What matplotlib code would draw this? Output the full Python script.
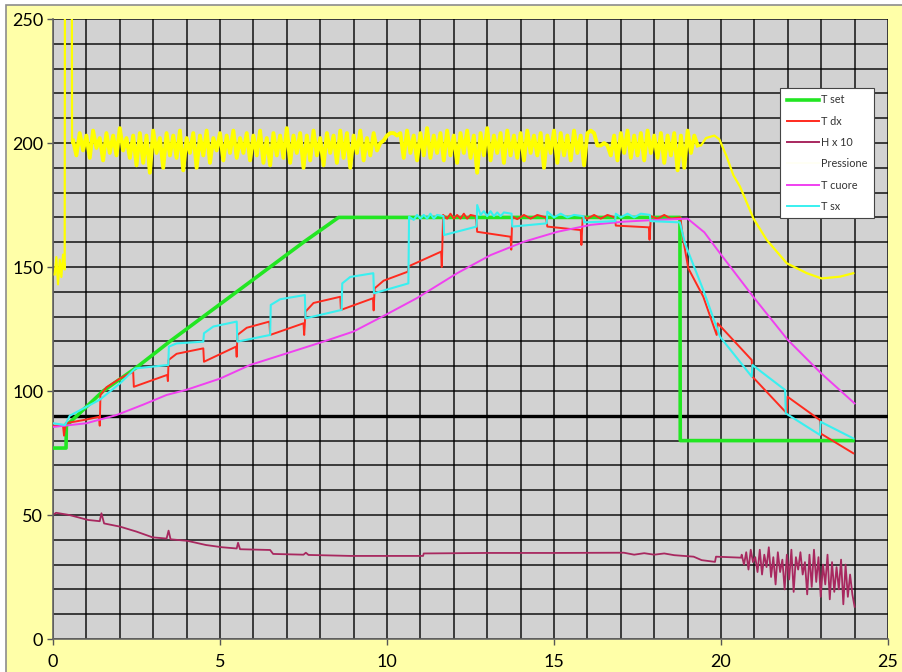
import matplotlib.pyplot as plt
import matplotlib.patches as patches
from matplotlib.ticker import MultipleLocator
import numpy as np

plt.rcParams['font.family'] = ['Lato', 'DejaVu Sans']

# T set (green)
tset_x = [0, 0.39, 0.40, 1.5, 2.5, 3.5, 4.5, 5.5, 6.5, 7.5, 8.55, 18.77, 18.78, 23.95]
tset_y = [77, 77, 86, 100, 109.5, 120, 130, 140, 150, 160, 170, 170, 80, 80]

# T dx (red)
tdx_x = [0, 0.3, 0.33, 0.38, 1.0, 1.38, 1.40, 1.42, 1.6, 2.0, 2.4, 2.42, 3.42, 3.44, 3.46,
         3.7, 4.5, 4.52, 5.48, 5.50, 5.52, 5.8, 6.48, 6.50, 7.50, 7.52, 7.56, 7.8, 8.60,
         8.62, 9.58, 9.60, 9.63, 9.9, 10.62, 10.65, 11.62, 11.64, 11.68, 11.8, 11.9, 12.0,
         12.1, 12.2, 12.3, 12.4, 12.5, 12.66, 12.70, 13.70, 13.72, 13.75, 13.9, 14.1, 14.3,
         14.5, 14.76, 14.80, 15.80, 15.82, 15.86, 16.0, 16.2, 16.4, 16.6, 16.82, 16.85, 17.84,
         17.86, 17.90, 18.1, 18.3, 18.5, 18.78, 18.87, 19.02, 19.47, 19.87, 19.90, 20.92,
         20.94, 21.97, 21.99, 22.96, 22.98, 23.96]
tdx_y = [86, 86, 82, 87, 88.5, 89.6, 86, 98.4, 101.5, 105, 107.8, 101.7, 106.5, 104, 112.5,
         115, 117.2, 111.8, 117.9, 113.8, 122.6, 125.5, 128, 122.6, 127.3, 122.6, 132, 135.5, 138,
         132.7, 137.4, 132.5, 141.4, 144.5, 148.1, 150.3, 156.2, 150, 171, 169.5, 171.5, 169.5,
         171, 169.5, 171.5, 169.5, 171, 170.5, 164.2, 162.2, 157, 170.3, 169.3, 171, 169.5,
         171, 170, 166.3, 164.9, 158.9, 170.5, 169.5, 171, 169.5, 171, 170, 166.7, 166,
         161, 170.5, 169.5, 171, 169.5, 170, 160.9, 149.5, 138, 122.6, 127.3, 112.5,
         105.8, 91, 97.7, 88.3, 82.9, 74.9]

# H x 10 (maroon)
hx10_x = [0.05, 0.09, 0.49, 1.05, 1.40, 1.45, 1.53, 2.01, 2.5, 2.98, 3.40, 3.46, 3.52, 4.02,
          4.58, 5.06, 5.50, 5.54, 5.60, 6.5, 6.59, 7.5, 7.57, 7.65, 8.91, 11.08, 11.10,
          13.0, 15.0, 17.09, 17.4, 17.7, 18.0, 18.3, 18.6, 19.18, 19.42, 19.82, 19.85, 20.6]
hx10_y = [50.5, 50.9, 50, 48, 47.5, 50.7, 46.6, 45.3, 43.3, 41, 40.5, 43.7, 40.2, 39.6,
          37.9, 37, 36.5, 38.8, 36.2, 35.9, 34.3, 34.0, 34.8, 33.9, 33.5, 33.5, 34.5,
          34.7, 34.7, 34.8, 34.0, 34.6, 34.0, 34.5, 33.8, 33.2, 31.8, 31.1, 33.2, 32.8]
hx10_tail = [34, 30, 35, 28, 36, 31, 33, 27, 36, 26, 34, 29, 37, 25, 33, 22, 35, 27, 32, 20,
             34, 24, 36, 19, 33, 28, 35, 26, 31, 18, 34, 21, 36, 23, 33, 17, 30, 22, 34, 16,
             31, 19, 29, 20, 32, 14, 30, 17, 26, 18, 13]

# Pressione (yellow)
press_start_x = [0.05, 0.1, 0.15, 0.2, 0.25, 0.3, 0.35, 0.36, 0.56, 0.57, 0.6]
press_start_y = [147, 154, 143, 153, 146, 155, 149, 300, 300, 200, 201]
press_noise = [
    201, 195, 204, 197, 203, 194, 205, 198, 202, 193,
    204, 196, 203, 195, 206, 197, 202, 194, 203, 191,
    204, 192, 203, 188, 205, 196, 202, 190, 204, 195,
    203, 194, 205, 189, 202, 196, 204, 190, 203, 195,
    205, 192, 202, 197, 204, 193, 203, 196, 205, 194,
    202, 196, 204, 193, 203, 195, 205, 192, 202, 191,
    204, 195, 203, 194, 206, 192, 203, 196, 204, 190,
    203, 193, 205, 195, 202, 191, 204, 196, 203, 192,
    205, 194, 204, 190, 203, 196, 205, 193, 202, 195,
    204, 197, 200, 201, 203, 204, 204, 203, 204, 194,
    205, 196, 203, 193, 204, 195, 206, 194, 203, 196,
    204, 193, 205, 195, 203, 192, 204, 196, 205, 194,
    203, 188, 204, 195, 206, 193, 203, 196, 204, 192,
    205, 195, 203, 194, 204, 193, 205, 196, 203, 195,
    204, 190, 203, 196, 205, 192, 204, 195, 203, 193,
    205, 196, 203, 191, 204, 205, 204, 199, 199, 200,
    199, 195, 203, 193, 204, 196, 205, 194, 203, 195,
    204, 193, 205, 196, 203, 194, 204, 192, 203, 195,
    204, 189, 203, 190, 205, 196, 203, 199]
press_end_x = [19.3, 19.4, 19.55, 19.8, 19.95, 20.17, 20.37, 20.57, 20.97, 21.37, 21.97,
               22.57, 23.01, 23.56, 23.96]
press_end_y = [199, 199, 202, 203, 201.5, 194.5, 187, 182.4, 169.6, 160.9, 151.5, 147.5,
               145.4, 146.1, 147.5]

# T cuore (magenta)
tcuore_x = [0, 1.0, 1.9, 2.7, 3.4, 4.0, 5.0, 5.9, 7.0, 8.0, 9.0, 10.0, 10.9, 11.5, 12.1,
            13.1, 14.1, 15.1, 16.1, 17.1, 18.1, 19.0, 19.5, 20.0, 21.0, 22.0, 23.0, 24.0]
tcuore_y = [85.5, 87, 90.3, 94.5, 98.4, 100.5, 105, 110.5, 115.2, 119.5, 124, 131, 137.5,
            142.5, 147.5, 154.8, 160.2, 164.2, 167, 168.3, 169, 169.5, 164, 155, 137.4,
            120.6, 107.1, 95]

# T sx (cyan)
tsx_x = [0, 0.36, 0.5, 1.4, 2.0, 2.46, 3.45, 3.47, 3.7, 4.5, 4.52, 4.8, 5.5, 5.52, 6.5,
         6.52, 6.8, 7.54, 7.56, 8.64, 8.66, 8.9, 9.59, 9.61, 10.64, 10.66, 10.8, 10.9, 11.0,
         11.1, 11.2, 11.3, 11.4, 11.5, 11.69, 11.71, 12.68, 12.70, 12.8, 12.9, 13.0, 13.1,
         13.2, 13.3, 13.4, 13.5, 13.73, 13.75, 14.78, 14.80, 15.0, 15.2, 15.4, 15.6, 15.88,
         15.90, 16.83, 16.85, 17.0, 17.2, 17.4, 17.6, 17.87, 17.89, 18.77, 18.92, 19.47,
         19.97, 20.92, 20.94, 21.92, 21.94, 22.96, 22.98, 23.96]
tsx_y = [87, 86.3, 90, 96.5, 103, 109.1, 110.5, 117.9, 119.2, 119.9, 123.3, 126, 128, 119.9,
         122.6, 134.7, 137, 138.7, 129.3, 132.7, 143.4, 146, 147.5, 139.4, 143.4, 170.3, 169,
         171, 169.5, 171, 169.5, 171.5, 169.5, 171, 170.5, 162.9, 166.3, 175, 171, 172.5,
         170.5, 172.5, 170.5, 172, 170.5, 172, 171.5, 166.3, 167.6, 172.3, 170, 171.5,
         170, 171, 170.5, 168, 168.5, 171.5, 170, 171.5, 170, 171.5, 171, 168.5, 168,
         159.5, 140.7, 121.9, 105.8, 110.5, 100.4, 91, 82.3, 87.6, 80.9]

press_noise_x = np.linspace(0.6, 19.3, len(press_noise))
hx10_tail_x = np.linspace(20.62, 24.0, len(hx10_tail))

fig = plt.figure(figsize=(9.03, 6.72), dpi=100)
fig.patch.set_facecolor('white')
frame = patches.Rectangle((0.007, -0.01), 0.995, 1.003, transform=fig.transFigure,
                          facecolor='#FFFFA8', edgecolor='#8C8C8C', linewidth=1.2,
                          zorder=-10)
fig.patches.append(frame)

ax = fig.add_axes([0.0587, 0.0491, 0.9247, 0.9226])
ax.set_zorder(1)
ax.set_facecolor('#D2D2D2')

ax.set_xlim(0, 25)
ax.set_ylim(0, 250)
ax.xaxis.set_major_locator(MultipleLocator(5))
ax.xaxis.set_minor_locator(MultipleLocator(1))
ax.yaxis.set_major_locator(MultipleLocator(50))
ax.yaxis.set_minor_locator(MultipleLocator(10))
ax.grid(which='both', color='black', linewidth=1.4, alpha=0.72)
ax.set_axisbelow(True)
ax.axhline(90, color='black', linewidth=2.4, zorder=1)

ax.tick_params(which='minor', length=0)
ax.tick_params(which='major', length=4, width=1, color='#555555', labelsize=13)
ax.tick_params(axis='x', pad=7)
ax.tick_params(axis='y', pad=3)
for side in ['top', 'right']:
    ax.spines[side].set_visible(False)
for side in ['left', 'bottom']:
    ax.spines[side].set_color('#666666')
    ax.spines[side].set_linewidth(1.2)

ax.plot(tset_x, tset_y, color='#22E622', linewidth=2.6, label='T set', zorder=3)
ax.plot(tdx_x, tdx_y, color='#FF2A1E', linewidth=1.4, label='T dx', zorder=4)
ax.plot(hx10_x + list(hx10_tail_x), hx10_y + hx10_tail, color='#A8285F', linewidth=1.3,
        label='H x 10', zorder=4)
ax.plot(press_noise_x, press_noise, color='#FFFF00', linewidth=2.8, label='Pressione',
        zorder=4)
ax.plot(press_start_x, press_start_y, color='#FFFF00', linewidth=1.6, zorder=4)
ax.plot(press_end_x, press_end_y, color='#FFFF00', linewidth=1.6, zorder=4)
ax.plot(tcuore_x, tcuore_y, color='#F040F0', linewidth=1.4, label='T cuore', zorder=5)
ax.plot(tsx_x, tsx_y, color='#38F0F0', linewidth=1.5, label='T sx', zorder=6)

leg = ax.legend(loc='upper left', bbox_to_anchor=(0.871, 0.889), fontsize=7.8,
                frameon=True, fancybox=False, framealpha=1, edgecolor='#444444',
                handlelength=3.0, handletextpad=0.2, borderpad=0.6, labelspacing=0.95,
                borderaxespad=0)
leg.get_frame().set_linewidth(0.8)
for t in leg.get_texts():
    t.set_color('#333333')
# yellow sample is invisible on the white legend box in the original
leg.legend_handles[3].set_color('#FFFFF4')
for h in leg.legend_handles[1:]:
    h.set_linewidth(1.4)

fig.savefig('out.png', dpi=100, facecolor=fig.get_facecolor())
